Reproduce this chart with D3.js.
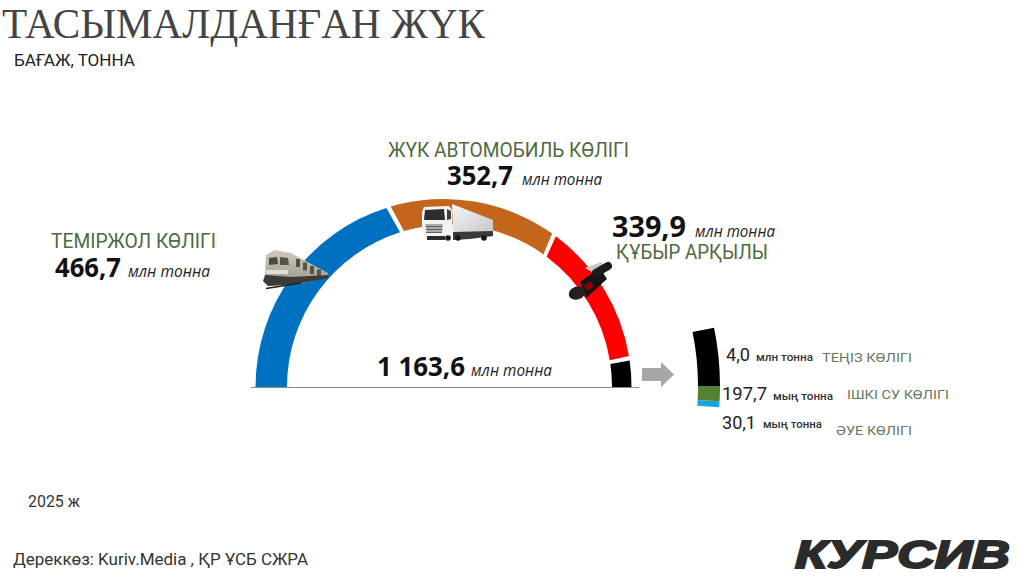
<!DOCTYPE html>
<html><head><meta charset="utf-8">
<script src="https://cdn.jsdelivr.net/npm/d3@7"></script>
<style>html,body{margin:0;padding:0;background:#fff}svg{display:block}text{font-family:Roboto,sans-serif}</style>
</head><body><svg id="c" width="1024" height="576">
<defs>
<linearGradient id="trailer" x1="0" y1="0" x2="1" y2="1"><stop offset="0" stop-color="#f6f6f7"/><stop offset="1" stop-color="#c6c7c9"/></linearGradient>
<linearGradient id="trainBody" x1="0" y1="0" x2="0" y2="1"><stop offset="0" stop-color="#cfc9bc"/><stop offset="1" stop-color="#9d9789"/></linearGradient>
</defs></svg>
<script>
// ---- data ----
const mainCategories = ["ТЕМІРЖОЛ КӨЛІГІ","ЖҮК АВТОМОБИЛЬ КӨЛІГІ","ҚҰБЫР АРҚЫЛЫ","ӨЗГЕ"];
const mainValues = [466.7,352.7,339.9,4.2278];
const mainLabels = ["466,7","352,7","339,9"];
const totalLabel = "1 163,6";
const detailCategories = ["ӘУЕ КӨЛІГІ","ІШКІ СУ КӨЛІГІ","ТЕҢІЗ КӨЛІГІ"];
const detailValues = [0.0301,0.1977,4.0];
const detailLabels = ["30,1","197,7","4,0"];
const detailUnits = ["мың тонна","мың тонна","млн тонна"];
const mainColors = ["#0070C0","#C4651C","#FF0000","#000000"];
const detailColors = ["#17A5DC","#548235","#000000"];

const svg = d3.select("#c");
const rad = d => d*Math.PI/180;
const cum = a => { let s=0; return [0].concat(a.map(v=>s+=v)); };

// ---- main half ring: outer and inner circles are off-centre, as drawn in the source ----
const base = 387;
const outer = {x:443.5,r:188}, inner = {x:449.5,r:162.5};
// the scale is broken so that the small remainder stays visible
const angle = d3.scaleLinear().domain(cum(mainValues)).range([0,73,126,171.2,180]);
function ringPath(a0,a1){
  const p = d3.path();
  const t0 = rad(180+a0), t1 = rad(180+a1);
  p.arc(outer.x,base,outer.r,t0,t1,false);
  p.arc(inner.x,base,inner.r,t1,t0,true);
  p.closePath();
  return p.toString();
}
const pad = 0.7;
const ends = cum(mainValues);
svg.append("g").selectAll("path").data(mainValues).join("path")
  .attr("d",(d,i)=>ringPath(angle(ends[i])+(i?pad:0), angle(ends[i+1])-(i<3?pad:0)))
  .attr("fill",(d,i)=>mainColors[i]);
svg.append("line").attr("x1",251).attr("x2",639).attr("y1",base+.5).attr("y2",base+.5).attr("stroke","#8a8a8a").attr("stroke-width",1);

// ---- detail ring ----
const det = {x:430,y:386,ro:290,ri:268};
const detAngle = d3.scaleLinear().domain(cum(detailValues)).range([-4.2,-3,0,11.6]);
const detEnds = cum(detailValues);
const detArc = d3.arc().innerRadius(det.ri).outerRadius(det.ro);
svg.append("g").attr("transform",`translate(${det.x},${det.y})`)
  .selectAll("path").data(detailValues).join("path")
  .attr("d",(d,i)=>detArc({startAngle:rad(90-detAngle(detEnds[i])),endAngle:rad(90-detAngle(detEnds[i+1]))}))
  .attr("fill",(d,i)=>detailColors[i]);

// arrow
svg.append("path").attr("d","M642 368H661V362L674 374.5L661 387V381H642Z").attr("fill","#A6A6A6");

// ---- icons ----
const shape = (g,d,fill) => g.append("path").attr("d",d).attr("fill",fill);
const train = svg.append("g");
shape(train,"M266 255L275 250L291 253L328 273L328 277L300 284L268 286L265 276Z","url(#trainBody)");
shape(train,"M269 258L277 257L278 264L269 265Z","#4b4a44");
shape(train,"M280 257L288 258L289 265L280 265Z","#56544c");
for(const x of [296,303,310,317]) shape(train,`M${x} ${259+(x-296)*.5}h4v8h-4Z`,"#55534b");
shape(train,"M265 275L292 277L328 275L328 278L296 284L268 286L263 281Z","#3d3b35");
shape(train,"M266 270H288V274H266Z","#e2ded4");
train.append("path").attr("d","M266 288.5L301 283").attr("stroke","#1f1f1f").attr("stroke-width",1.6);

const truck = svg.append("g");
shape(truck,"M452 204L493 220L493 233L453 233Z","url(#trailer)");
shape(truck,"M453 232L493 231L493 236L470 239L453 240Z","#3a3a3a");
shape(truck,"M424 207L449 206L452 210L452 236L447 240L426 240L422 232L422 212Z","#f3f3f3");
shape(truck,"M425 210L444 209L445 220L424 220Z","#2a2e33");
shape(truck,"M447 209L451 211V219L447 220Z","#3a3d40");
shape(truck,"M425 224H443L442 233H427Z","#a9abae");
for(const y of [226,229,232]) shape(truck,`M426 ${y}h16v.9h-16Z`,"#55585b");
shape(truck,"M427 236H445V240H427Z","#2c2c2c");
truck.selectAll("circle").data([448,458,484]).join("circle").attr("cx",d=>d).attr("cy",238).attr("r",2.8).attr("fill","#161616");

const pipe = svg.append("g");
shape(pipe,"M580 282L600 268L607 279L586 298Z","#141414");
shape(pipe,"M584 286L590 281L594 286L588 291Z","#8a0000");
pipe.append("ellipse").attr("cx",577).attr("cy",293).attr("rx",8.5).attr("ry",6.5).attr("transform","rotate(-20 577 293)").attr("fill","#222");
shape(pipe,"M585 268L601 262L606 267L592 272Z","#c9c9c9");
pipe.append("path").attr("d","M596 273L608 266").attr("stroke","#1c1c1c").attr("stroke-width",8).attr("stroke-linecap","round");

// ---- text ----
function txt(x,y,s,o={}){
  const t = svg.append("text").attr("x",x).attr("y",y).text(s)
    .attr("font-size",o.size||14).attr("fill",o.fill||"#222")
    .attr("font-weight",o.weight||400).attr("font-style",o.style||"normal");
  if(o.family) t.style("font-family",o.family);
  if(o.len) t.attr("textLength",o.len).attr("lengthAdjust",o.adj||"spacingAndGlyphs");
  return t;
}
const GREEN="#4f6a40", PALE="#66795c", OS='"Open Sans",sans-serif';
txt(2,38,"ТАСЫМАЛДАНҒАН ЖҮК",{size:42,family:'"Liberation Serif",serif',fill:"#444",len:483});
txt(14,66,"БАҒАЖ, ТОННА",{size:17,fill:"#222",len:121});
txt(28,507,"2025 ж",{size:17,fill:"#333",len:52});
txt(13,565,"Дереккөз: Kuriv.Media , ҚР ҰСБ СЖРА",{size:17,fill:"#333",len:295});
txt(795,568,"КУРСИВ",{size:38,weight:700,style:"italic",family:'"Liberation Sans",sans-serif',fill:"#2b2b2b",len:215}).attr("stroke","#2b2b2b").attr("stroke-width",2);

const unit = (x,y,s,len) => txt(x,y,s,{size:16,style:"italic",family:OS,fill:"#222",len});
const big = (x,y,s,size,len) => txt(x,y,s,{size,weight:700,family:OS,fill:"#111",len});
// main labels
txt(51,248,mainCategories[0],{size:19.5,fill:GREEN,len:165});
big(55,277,mainLabels[0],26,66); unit(128,277,"млн тонна",82);
txt(388,157,mainCategories[1],{size:19.5,fill:GREEN,len:241});
big(447,185,mainLabels[1],26,66); unit(522,185,"млн тонна",80);
big(612,237,mainLabels[2],28,74); unit(695,237,"млн тонна",80);
txt(616,259,mainCategories[2],{size:19.5,fill:GREEN,len:152});
big(377,376,totalLabel,27,88); unit(471,376,"млн тонна",81);

// detail labels (top to bottom in the source: sea, inland water, air)
txt(726,361,detailLabels[2],{size:17.5,fill:"#222",len:24});
txt(756,361,detailUnits[2],{size:11,weight:500,fill:"#333",len:57});
txt(822,362,detailCategories[2],{size:13.5,fill:PALE,len:90});
txt(722,400,detailLabels[1],{size:17.5,fill:"#222",len:45});
txt(773,400,detailUnits[1],{size:11,weight:500,fill:"#333",len:60});
txt(847,399,detailCategories[1],{size:13.5,fill:PALE,len:102});
txt(722,429,detailLabels[0],{size:17.5,fill:"#222",len:34});
txt(763,428,detailUnits[0],{size:11,weight:500,fill:"#333",len:59});
txt(836,435,detailCategories[0],{size:13.5,fill:PALE,len:76});
</script></body></html>
